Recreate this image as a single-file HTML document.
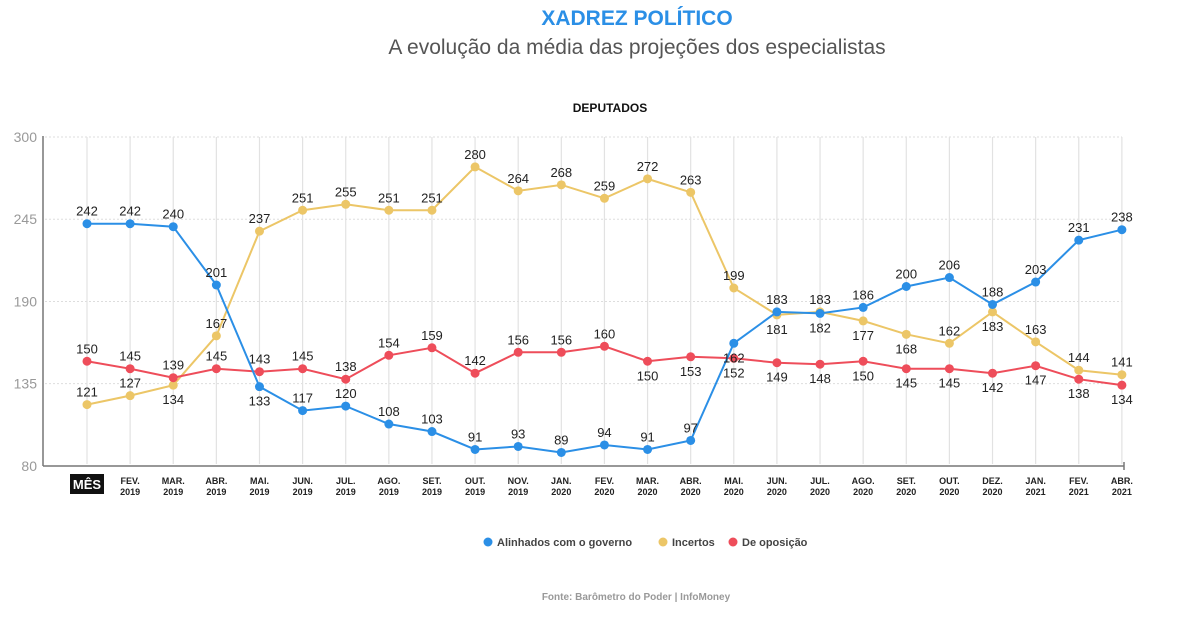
<!DOCTYPE html>
<html><head><meta charset="utf-8"><style>
body{margin:0;background:#fff;width:1203px;height:613px;overflow:hidden;font-family:"Liberation Sans",sans-serif}
</style></head><body>
<svg id="s" width="1203" height="613" xmlns="http://www.w3.org/2000/svg" font-family="Liberation Sans, sans-serif">
<text x="637" y="25" text-anchor="middle" font-size="21" font-weight="bold" fill="#2b8fe6">XADREZ POLÍTICO</text>
<text x="637" y="54" text-anchor="middle" font-size="21" fill="#555">A evolução da média das projeções dos especialistas</text>
<text x="610" y="112" text-anchor="middle" font-size="12" font-weight="bold" fill="#111">DEPUTADOS</text>
<g font-size="11" font-weight="bold" fill="#444">
<circle cx="488" cy="542" r="4.5" fill="#2b8fe6"/><text x="497" y="546">Alinhados com o governo</text>
<circle cx="663" cy="542" r="4.5" fill="#ecc667"/><text x="672" y="546">Incertos</text>
<circle cx="733" cy="542" r="4.5" fill="#ee4d5a"/><text x="742" y="546">De oposição</text>
</g>
<text x="636" y="600" text-anchor="middle" font-size="10" font-weight="bold" fill="#999">Fonte: Barômetro do Poder | InfoMoney</text>
</svg>
<script>
const s=document.getElementById('s'),NS='http://www.w3.org/2000/svg';
function el(t,a,txt){const e=document.createElementNS(NS,t);for(const k in a)e.setAttribute(k,a[k]);if(txt!==undefined)e.textContent=txt;s.appendChild(e);return e;}
const X=i=>87+i*43.12, Y=v=>137+(300-v)*1.495;
const m=[["MÊS",""],["FEV.","2019"],["MAR.","2019"],["ABR.","2019"],["MAI.","2019"],["JUN.","2019"],["JUL.","2019"],["AGO.","2019"],["SET.","2019"],["OUT.","2019"],["NOV.","2019"],["JAN.","2020"],["FEV.","2020"],["MAR.","2020"],["ABR.","2020"],["MAI.","2020"],["JUN.","2020"],["JUL.","2020"],["AGO.","2020"],["SET.","2020"],["OUT.","2020"],["DEZ.","2020"],["JAN.","2021"],["FEV.","2021"],["ABR.","2021"]];
[300,245,190,135].forEach(v=>{el('line',{x1:45,x2:1122,y1:Y(v),y2:Y(v),stroke:'#ddd','stroke-dasharray':'2,2'});});
[300,245,190,135,80].forEach(v=>{el('text',{x:37,y:Y(v)+5,'text-anchor':'end','font-size':14,fill:'#999'},v);});
m.forEach((l,i)=>{el('line',{x1:X(i),x2:X(i),y1:137,y2:464,stroke:'#e2e2e2','stroke-width':1.2});
 if(i==0){el('rect',{x:70,y:474,width:34,height:20,fill:'#111'});el('text',{x:87,y:489,'text-anchor':'middle','font-size':13,'font-weight':'bold',fill:'#fff'},'MÊS');}
 else{el('text',{x:X(i),y:484,'text-anchor':'middle','font-size':9,'font-weight':'bold',fill:'#222'},l[0]);el('text',{x:X(i),y:495,'text-anchor':'middle','font-size':9,'font-weight':'bold',fill:'#222'},l[1]);}
});
el('line',{x1:43,x2:43,y1:136,y2:466,stroke:'#777','stroke-width':1.5});
el('line',{x1:43,x2:1124,y1:466,y2:466,stroke:'#777','stroke-width':1.5});
el('line',{x1:1124,x2:1124,y1:462,y2:470,stroke:'#777','stroke-width':1.5});
const S=[
 ['#ecc667',[121,127,134,167,237,251,255,251,251,280,264,268,259,272,263,199,181,183,177,168,162,183,163,144,141],"aab"+"aaaaaaaaaaaaa"+"babbabaaa"],
 ['#ee4d5a',[150,145,139,145,143,145,138,154,159,142,156,156,160,150,153,152,149,148,150,145,145,142,147,138,134],"aaaaaaaaaaaaa"+"bbbbbbbbbbbb"],
 ['#2b8fe6',[242,242,240,201,133,117,120,108,103,91,93,89,94,91,97,162,183,182,186,200,206,188,203,231,238],"aaaa"+"b"+"aaaaaaaaaa"+"b"+"a"+"b"+"aaaaaaa"]];
S.forEach(([c,d,p])=>{
 el('polyline',{points:d.map((v,i)=>X(i)+','+Y(v)).join(' '),fill:'none',stroke:c,'stroke-width':2});
 d.forEach((v,i)=>{el('circle',{cx:X(i),cy:Y(v),r:4.5,fill:c});
  el('text',{x:X(i),y:Y(v)+(p[i]=='a'?-8:19),'text-anchor':'middle','font-size':13,fill:'#222'},v);});
});
</script>
</body></html>
